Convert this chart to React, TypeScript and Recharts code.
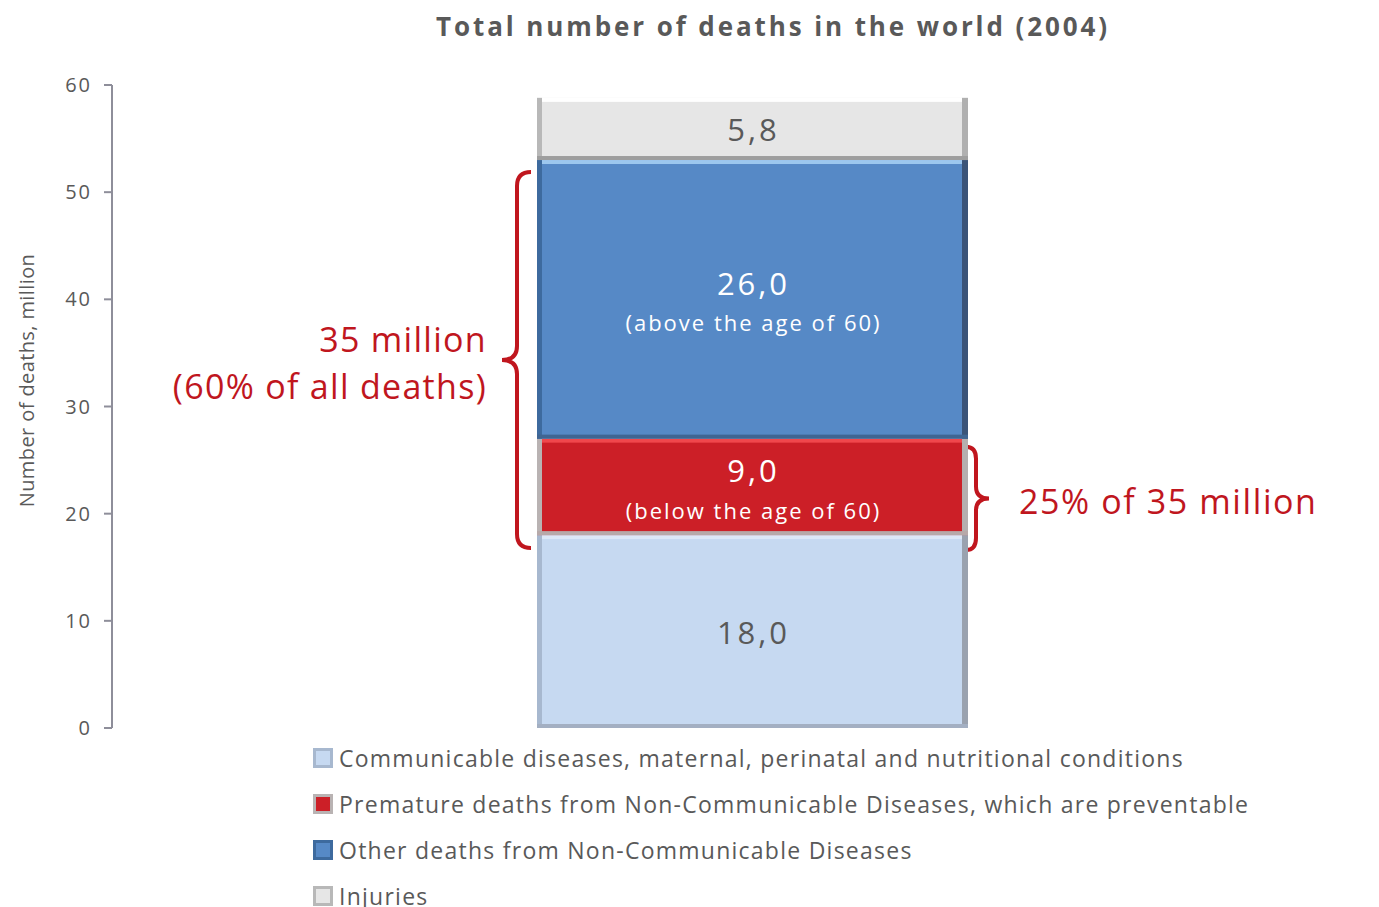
import React from 'react'
import { BarChart, Bar, XAxis, YAxis, Legend, LabelList, ReferenceArea } from 'recharts'

const categories = ['World 2004']
const seriesKeys = ['communicable', 'premature', 'otherNcd', 'injuries']
const seriesNames = [
  'Communicable diseases, maternal, perinatal and nutritional conditions',
  'Premature deaths from Non-Communicable Diseases, which are preventable',
  'Other deaths from Non-Communicable Diseases',
  'Injuries',
]
const communicable = [18.0]
const premature = [9.0]
const otherNcd = [26.0]
const injuries = [5.8]
const subLabels = ['', '(below the age of 60)', '(above the age of 60)', '']
const yTicks = [0, 10, 20, 30, 40, 50, 60]

const FONT = '"Open Sans", Lato, sans-serif'
const GREY_TEXT = '#595959'
const RED_TEXT = '#C0161E'

// fill, top highlight, edges, label colour
const palette = [
  { fill: '#C6D9F1', top: '#DCE8F7', left: '#A7B8CF', right: '#9AA2AF', bottom: '#A3AFC2', text: GREY_TEXT },
  { fill: '#CC1F27', top: '#F0474C', left: '#B9B3B3', right: '#B5AFAF', bottom: '#B7A9A9', text: '#FFFFFF' },
  { fill: '#5689C6', top: '#9CC7EE', left: '#3D6A9E', right: '#3B5478', bottom: '#3F6592', text: '#FFFFFF' },
  { fill: '#E6E6E6', top: '#FFFFFF', left: '#B8B8B8', right: '#B0B0B0', bottom: '#9E9E9E', text: GREY_TEXT },
]

const data = categories.map((c, i) => ({
  name: c,
  communicable: communicable[i],
  premature: premature[i],
  otherNcd: otherNcd[i],
  injuries: injuries[i],
}))

const fmt = (v: number) => v.toFixed(1).replace('.', ',')

const makeShape = (idx: number) => (props: any) => {
  const { x, y, width, height } = props
  const p = palette[idx]
  return (
    <g>
      <rect x={x} y={y} width={width} height={height} fill={p.fill} />
      <rect x={x} y={y} width={width} height={4} fill={p.top} />
      <rect x={x} y={y} width={5} height={height} fill={p.left} />
      <rect x={x + width - 6} y={y} width={6} height={height} fill={p.right} />
      <rect x={x} y={y + height - 4} width={width} height={4} fill={p.bottom} />
    </g>
  )
}

const makeLabel = (idx: number) => (props: any) => {
  const { x, y, width, height, value } = props
  const cx = x + width / 2
  const cy = y + height / 2
  const sub = subLabels[idx]
  const color = palette[idx].text
  return (
    <g>
      <text x={cx + 1} y={sub ? cy - 13 : cy + 4} textAnchor="middle" dominantBaseline="middle"
        fontSize={31} letterSpacing={3} fill={color} fontFamily={FONT}>{fmt(value)}</text>
      {sub && (
        <text x={cx + 1} y={cy + 26} textAnchor="middle" dominantBaseline="middle"
          fontSize={22} letterSpacing={2} fill={color} fontFamily={FONT}>{sub}</text>
      )}
    </g>
  )
}

const LeftBrace = (props: any) => {
  const { y, height } = props
  const yt = y + 12
  const yb = y + height + 13
  const ym = (yt + yb) / 2
  const xr = 531, xm = 517, xl = 502, r = 14
  const d = `M ${xr} ${yt} Q ${xm} ${yt} ${xm} ${yt + r} L ${xm} ${ym - r} Q ${xm} ${ym} ${xl} ${ym} Q ${xm} ${ym} ${xm} ${ym + r} L ${xm} ${yb - r} Q ${xm} ${yb} ${xr} ${yb}`
  return (
    <g>
      <path d={d} fill="none" stroke={RED_TEXT} strokeWidth={4} />
      <text x={487} y={ym - 17} textAnchor="end" dominantBaseline="middle" fontSize={34} letterSpacing={1.3} fill={RED_TEXT} fontFamily={FONT}>35 million</text>
      <text x={487} y={ym + 30} textAnchor="end" dominantBaseline="middle" fontSize={34} letterSpacing={1.3} fill={RED_TEXT} fontFamily={FONT}>(60% of all deaths)</text>
    </g>
  )
}

const RightBrace = (props: any) => {
  const { y, height } = props
  const yt = y + 8
  const yb = y + height + 15
  const ym = (yt + yb) / 2
  const xl = 966, xm = 976, xr = 989, r = 12
  const d = `M ${xl} ${yt} Q ${xm} ${yt} ${xm} ${yt + r} L ${xm} ${ym - r} Q ${xm} ${ym} ${xr} ${ym} Q ${xm} ${ym} ${xm} ${ym + r} L ${xm} ${yb - r} Q ${xm} ${yb} ${xl} ${yb}`
  return (
    <g>
      <path d={d} fill="none" stroke={RED_TEXT} strokeWidth={4} />
      <text x={1019} y={ym + 7} dominantBaseline="middle" fontSize={34} letterSpacing={1.6} fill={RED_TEXT} fontFamily={FONT}>25% of 35 million</text>
    </g>
  )
}

const renderLegend = () => (
  <div style={{ display: 'flex', flexDirection: 'column', fontFamily: FONT, fontSize: 23, letterSpacing: 1.25, color: GREY_TEXT }}>
    {seriesNames.map((n, i) => (
      <div key={n} style={{ display: 'flex', alignItems: 'center', height: 46, whiteSpace: 'nowrap' }}>
        <span style={{
          display: 'inline-block', width: 14, height: 14, background: palette[i].fill,
          border: `3px solid ${palette[i].left}`, marginRight: 6,
        }} />
        <span>{n}</span>
      </div>
    ))}
  </div>
)

export default function App() {
  return (
    <div style={{ position: 'absolute', left: 0, top: 0, width: 1379, height: 907, background: '#fff', overflow: 'hidden' }}>
      <div style={{
        position: 'absolute', left: 773, top: 8, transform: 'translateX(-50%)', whiteSpace: 'nowrap',
        fontFamily: FONT, fontWeight: 700, fontSize: 26, letterSpacing: 2.9, color: GREY_TEXT,
      }}>
        Total number of deaths in the world (2004)
      </div>
      <BarChart width={1379} height={907} data={data} margin={{ top: 85, right: 0, bottom: 179, left: 0 }}>
        <XAxis dataKey="name" tick={false} height={0} padding={{ left: 13, right: 0 }}
          axisLine={{ stroke: '#8E8E9A', strokeWidth: 2 }} tickLine={false} />
        <YAxis width={112} domain={[0, 60]} ticks={yTicks} interval={0} tickSize={8} tickMargin={12}
          axisLine={{ stroke: '#8E8E9A', strokeWidth: 2 }} tickLine={{ stroke: '#8E8E9A', strokeWidth: 2 }}
          tick={{ fill: GREY_TEXT, fontSize: 20, fontFamily: FONT, letterSpacing: 2 }}
          label={{
            content: (p: any) => {
              const vb = p.viewBox
              const cx = 29
              const cy = vb.y + vb.height / 2 - 26
              return (
                <text x={cx} y={cy} transform={`rotate(-90 ${cx} ${cy})`} textAnchor="middle" dominantBaseline="middle"
                  fontSize={20} letterSpacing={0.4} fill={GREY_TEXT} fontFamily={FONT}>Number of deaths, million</text>
              )
            },
          }} />
        {seriesKeys.map((k, i) => (
          <Bar key={k} dataKey={k} name={seriesNames[i]} stackId="a" barSize={431}
            fill={palette[i].fill} shape={makeShape(i)} isAnimationActive={false}>
            <LabelList dataKey={k} content={makeLabel(i)} />
          </Bar>
        ))}
        <ReferenceArea y1={communicable[0]} y2={communicable[0] + premature[0] + otherNcd[0]}
          ifOverflow="visible" shape={LeftBrace} />
        <ReferenceArea y1={communicable[0]} y2={communicable[0] + premature[0]}
          ifOverflow="visible" shape={RightBrace} />
        <Legend content={renderLegend} verticalAlign="bottom"
          wrapperStyle={{ left: 313, top: 735, width: 1050, height: 0, overflow: 'visible', bottom: 'auto' }} />
      </BarChart>
    </div>
  )
}
